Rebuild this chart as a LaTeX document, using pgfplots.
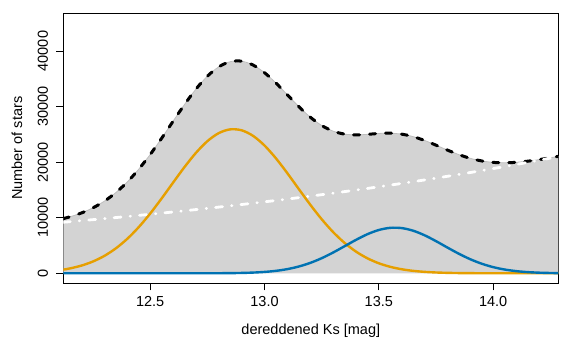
\documentclass[border=0pt]{standalone}
\usepackage{fontspec}
\setmainfont{Liberation Sans}
\usepackage{pgfplots}
\usepackage{pgfplotstable}
\pgfplotsset{compat=1.18}
\definecolor{myorange}{HTML}{E69F00}
\definecolor{myblue}{HTML}{0072B2}
\definecolor{mygray}{HTML}{D3D3D3}
\definecolor{myedge}{HTML}{BEBEBE}
\pgfplotstableread{
x bg or bl tot
12.12 9190 661 0 9851
12.15 9296 884 0 10180
12.20 9475 1394 0 10869
12.25 9658 2129 0 11787
12.30 9844 3144 0 12988
12.35 10034 4493 0 14527
12.40 10227 6213 0 16440
12.45 10424 8310 0 18734
12.50 10625 10754 0 21379
12.55 10830 13466 0 24296
12.60 11039 16312 0 27351
12.65 11252 19116 0 30368
12.70 11469 21675 2 33146
12.75 11690 23777 6 35473
12.80 11915 25235 13 37163
12.85 12145 25911 30 38086
12.90 12379 25741 64 38184
12.95 12618 24739 129 37486
13.00 12861 23004 245 36110
13.05 13109 20695 441 34245
13.10 13362 18012 754 32128
13.15 13620 15168 1220 30008
13.20 13883 12357 1870 28110
13.25 14151 9739 2715 26605
13.30 14424 7426 3736 25586
13.35 14702 5480 4870 25052
13.40 14985 3911 6013 24909
13.45 15274 2701 7034 25009
13.50 15569 1804 7796 25169
13.55 15869 1166 8184 25219
13.60 16175 729 8140 25044
13.65 16487 441 7670 24598
13.70 16805 258 6847 23910
13.75 17129 146 5790 23065
13.80 17459 80 4638 22177
13.85 17796 42 3520 21358
13.90 18139 22 2531 20692
13.95 18489 11 1724 20224
14.00 18846 5 1112 19963
14.05 19209 2 680 19891
14.10 19580 1 394 19975
14.15 19957 0 216 20173
14.20 20342 0 112 20454
14.25 20735 0 55 20790
14.285 21013 0 33 21046
}\data
\begin{document}
\begin{tikzpicture}
\path (-63.3pt,-68.7pt) rectangle (506.7pt,283.3pt);
\begin{axis}[
  scale only axis, width=495pt, height=270pt,
  xmin=12.12, xmax=14.285, ymin=-1800, ymax=46800,
  axis line style={line width=0.8pt},
  tick align=outside, major tick length=7pt,
  tick style={line width=0.8pt, black},
  tick pos=left,
  xtick={12.5,13,13.5,14}, ytick={0,10000,20000,30000,40000},
  scaled y ticks=false, scaled x ticks=false,
  /pgf/number format/assume math mode=true,
  ticklabel style={font=\fontsize{14.5}{17}\selectfont},
  xticklabel style={/pgf/number format/fixed, /pgf/number format/fixed zerofill, /pgf/number format/precision=1, yshift=-2.6pt},
  yticklabel style={/pgf/number format/fixed, /pgf/number format/1000 sep={}, xshift=-4.8pt, rotate=90, anchor=south},
  every axis x label/.style={at={(axis description cs:0.5,0)}, yshift=-47.7pt, anchor=center, font=\fontsize{14.5}{17}\selectfont},
  every axis y label/.style={at={(axis description cs:0,0.5)}, xshift=-46.3pt, rotate=90, anchor=center, font=\fontsize{14.5}{17}\selectfont},
  xlabel={dereddened Ks [mag]}, ylabel={Number of stars},
]
\addplot[draw=none, fill=mygray] table[x=x,y=tot]{\data} \closedcycle;
\addplot[myedge, line width=0.8pt, smooth] table[x=x,y=tot]{\data};
\addplot[black, line width=3pt, line cap=round, dash pattern=on 6pt off 10pt, smooth] table[x=x,y=tot]{\data};
\addplot[white, line width=2.8pt, line cap=round, dash pattern=on 7pt off 9pt on 0.5pt off 9pt] table[x=x,y=bg]{\data};
\addplot[myorange, line width=2.4pt, smooth] table[x=x,y=or]{\data};
\addplot[myblue, line width=2.4pt, smooth] table[x=x,y=bl]{\data};
\end{axis}
\end{tikzpicture}
\end{document}
